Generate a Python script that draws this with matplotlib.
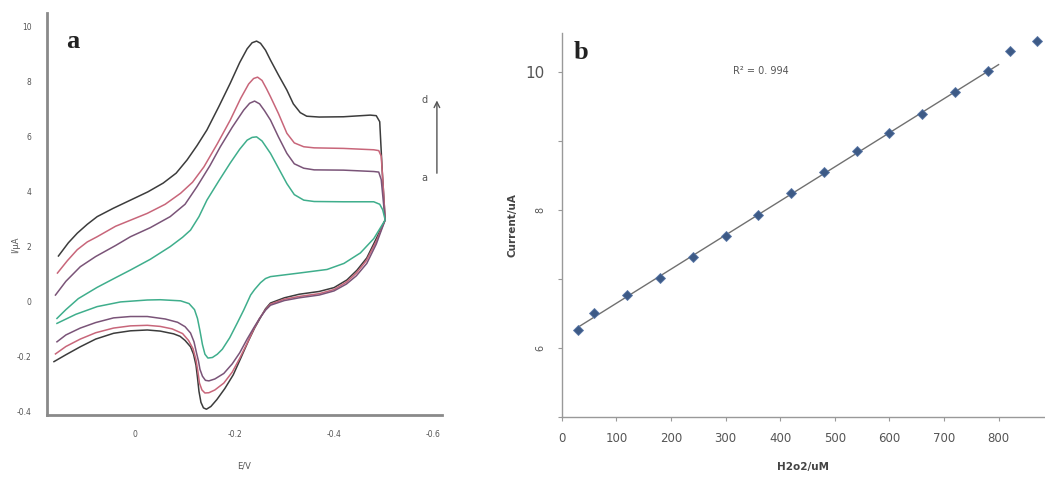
import matplotlib.pyplot as plt
import numpy as np

# ---- panel a: cyclic voltammograms (E / V, I / uA) ----
# curve d (black)
e_d = [0.155, 0.135, 0.117, 0.097, 0.077, 0.045, 0.010, -0.025, -0.056, -0.082,
       -0.104, -0.124, -0.144, -0.168, -0.191, -0.210, -0.225, -0.235, -0.244, -0.252,
       -0.262, -0.272, -0.288, -0.305, -0.318, -0.332, -0.345, -0.370, -0.419, -0.473,
       -0.485, -0.492, -0.497, -0.503,
       -0.485, -0.466, -0.446, -0.426, -0.400, -0.370, -0.330, -0.300, -0.272, -0.262,
       -0.254, -0.240, -0.228, -0.212, -0.197, -0.180, -0.164, -0.152, -0.143, -0.137,
       -0.132, -0.128, -0.125, -0.122, -0.117, -0.111, -0.100, -0.090, -0.077, -0.050,
       -0.024, 0.010, 0.044, 0.080, 0.111, 0.140, 0.164]
i_d = [1.67, 2.15, 2.50, 2.82, 3.10, 3.40, 3.70, 4.00, 4.32, 4.68,
       5.16, 5.68, 6.25, 7.10, 7.95, 8.70, 9.20, 9.42, 9.48, 9.40,
       9.15, 8.79, 8.25, 7.70, 7.20, 6.88, 6.75, 6.72, 6.73, 6.79,
       6.77, 6.55, 4.79, 2.98,
       2.30, 1.60, 1.15, 0.80, 0.52, 0.38, 0.28, 0.15, -0.04, -0.25,
       -0.50, -0.95, -1.40, -2.05, -2.65, -3.15, -3.55, -3.80, -3.90, -3.85,
       -3.65, -3.25, -2.75, -2.30, -1.90, -1.63, -1.40, -1.25, -1.16, -1.06,
       -1.02, -1.05, -1.14, -1.35, -1.63, -1.92, -2.17]

# curve c (red)
e_c = [0.157, 0.137, 0.117, 0.097, 0.077, 0.040, -0.024, -0.060, -0.091, -0.115,
       -0.138, -0.165, -0.191, -0.212, -0.228, -0.238, -0.246, -0.255, -0.264, -0.272,
       -0.288, -0.305, -0.320, -0.339, -0.360, -0.419, -0.480, -0.490, -0.495, -0.499,
       -0.503,
       -0.485, -0.465, -0.445, -0.425, -0.400, -0.370, -0.330, -0.300, -0.272, -0.262,
       -0.250, -0.238, -0.225, -0.210, -0.195, -0.178, -0.160, -0.148, -0.140, -0.134,
       -0.129, -0.126, -0.122, -0.116, -0.107, -0.095, -0.074, -0.050, -0.024, 0.010,
       0.044, 0.080, 0.111, 0.140, 0.161]
i_c = [1.05, 1.50, 1.90, 2.18, 2.37, 2.75, 3.22, 3.55, 3.95, 4.35,
       4.91, 5.75, 6.61, 7.40, 7.92, 8.12, 8.17, 8.05, 7.75, 7.46,
       6.85, 6.13, 5.78, 5.64, 5.60, 5.58, 5.53, 5.50, 5.30, 4.20,
       2.98,
       2.20, 1.50, 1.05, 0.72, 0.45, 0.30, 0.20, 0.10, -0.08, -0.28,
       -0.60, -1.00, -1.50, -2.05, -2.55, -2.95, -3.20, -3.30, -3.31, -3.20,
       -2.95, -2.55, -2.10, -1.70, -1.40, -1.15, -0.98, -0.89, -0.85, -0.87,
       -0.95, -1.12, -1.35, -1.62, -1.89]

# curve b (purple)
e_b = [0.161, 0.140, 0.111, 0.080, 0.040, 0.010, -0.030, -0.070, -0.100, -0.124,
       -0.150, -0.171, -0.195, -0.218, -0.230, -0.240, -0.250, -0.260, -0.272, -0.288,
       -0.305, -0.320, -0.339, -0.360, -0.419, -0.480, -0.490, -0.495, -0.499, -0.503,
       -0.485, -0.466, -0.445, -0.425, -0.400, -0.370, -0.330, -0.300, -0.272, -0.262,
       -0.250, -0.238, -0.225, -0.210, -0.195, -0.178, -0.160, -0.148, -0.141, -0.135,
       -0.130, -0.127, -0.123, -0.118, -0.111, -0.100, -0.085, -0.060, -0.024, 0.010,
       0.044, 0.080, 0.111, 0.140, 0.158]
i_b = [0.25, 0.75, 1.28, 1.65, 2.05, 2.37, 2.70, 3.10, 3.55, 4.19,
       4.95, 5.64, 6.35, 6.97, 7.22, 7.30, 7.20, 6.95, 6.61, 6.00,
       5.40, 5.02, 4.86, 4.80, 4.79, 4.74, 4.72, 4.45, 3.70, 2.98,
       2.10, 1.40, 0.95, 0.65, 0.40, 0.25, 0.15, 0.05, -0.12, -0.30,
       -0.60, -0.95, -1.35, -1.85, -2.25, -2.60, -2.80, -2.87, -2.85, -2.70,
       -2.45, -2.15, -1.85, -1.45, -1.13, -0.90, -0.74, -0.62, -0.53, -0.53,
       -0.58, -0.75, -0.95, -1.20, -1.45]

# curve a (green)
e_a = [0.158, 0.140, 0.115, 0.077, 0.040, 0.010, -0.030, -0.070, -0.095, -0.111,
       -0.128, -0.144, -0.168, -0.191, -0.210, -0.225, -0.235, -0.244, -0.255, -0.272,
       -0.290, -0.305, -0.320, -0.339, -0.360, -0.419, -0.480, -0.492, -0.498, -0.503,
       -0.480, -0.453, -0.420, -0.386, -0.330, -0.272, -0.262, -0.252, -0.240, -0.232,
       -0.218, -0.205, -0.190, -0.175, -0.165, -0.155, -0.146, -0.140, -0.135, -0.130,
       -0.125, -0.119, -0.108, -0.091, -0.050, -0.024, 0.030, 0.077, 0.120, 0.158]
i_a = [-0.60, -0.28, 0.12, 0.53, 0.88, 1.16, 1.55, 2.01, 2.35, 2.61,
       3.10, 3.70, 4.40, 5.05, 5.55, 5.88, 5.98, 6.00, 5.85, 5.40,
       4.80, 4.30, 3.90, 3.70, 3.65, 3.64, 3.64, 3.55, 3.35, 2.98,
       2.30, 1.78, 1.40, 1.18, 1.05, 0.92, 0.85, 0.70, 0.45, 0.25,
       -0.30, -0.77, -1.30, -1.72, -1.90, -2.02, -2.04, -1.90, -1.55, -1.05,
       -0.60, -0.28, -0.06, 0.04, 0.08, 0.07, 0.00, -0.17, -0.45, -0.78]

x_ticks_a = [0.0, -0.2, -0.4, -0.6]
x_labels_a = ['0', '-0.2', '-0.4', '-0.6']
y_ticks_a = [-4, -2, 0, 2, 4, 6, 8, 10]
y_labels_a = ['-0.4', '-0.2', '0', '2', '4', '6', '8', '10']

# ---- panel b: calibration ----
conc = [30, 60, 120, 180, 240, 300, 360, 420, 480, 540, 600, 660, 720, 780, 820, 870]
current = [6.26, 6.50, 6.76, 7.01, 7.31, 7.62, 7.93, 8.24, 8.54, 8.85, 9.11, 9.38,
           9.70, 10.01, 10.30, 10.45]
n_fit = 14   # points used for the trend line

fig = plt.figure(figsize=(10.45, 4.79), dpi=100)
ax1 = fig.add_axes([0.045, 0.1336, 0.378, 0.8386])
ax2 = fig.add_axes([0.5375, 0.130, 0.4625, 0.801])

curves = [(e_d, i_d, '#3c3c3c'), (e_c, i_c, '#c8667a'),
          (e_b, i_b, '#7a5478'), (e_a, i_a, '#3fae8c')]
for e, i, col in curves:
    ax1.plot(e, i, color=col, lw=1.1, solid_joinstyle='round')

ax1.set_xlim(0.178, -0.6175)
ax1.set_ylim(-4.11, 10.49)
ax1.set_xticks(x_ticks_a)
ax1.set_xticklabels(x_labels_a)
ax1.set_yticks(y_ticks_a)
ax1.set_yticklabels(y_labels_a)
ax1.tick_params(length=0, labelsize=5.5, labelcolor='#555555')
ax1.tick_params(axis='x', pad=11)
ax1.tick_params(axis='y', pad=11)
for s in ['top', 'right']:
    ax1.spines[s].set_visible(False)
for s in ['left', 'bottom']:
    ax1.spines[s].set_color('#8a8a8a')
    ax1.spines[s].set_linewidth(2)
ax1.set_xlabel('E/V', fontsize=6, color='#555555', labelpad=16)
ax1.set_ylabel('I/μA', fontsize=6, color='#555555')
ax1.yaxis.set_label_coords(-0.068, 0.423)
ax1.text(0.065, 0.93, 'a', transform=ax1.transAxes, fontsize=19, fontweight='bold',
         family='Liberation Serif', ha='center', va='center', color='#222222')
ax1.annotate('', xy=(0.987, 0.79), xytext=(0.987, 0.595), xycoords='axes fraction',
             arrowprops=dict(arrowstyle='->', color='#555555', lw=1.0),
             annotation_clip=False)
ax1.text(0.955, 0.785, 'd', transform=ax1.transAxes, fontsize=7, color='#555555',
         ha='center', va='center')
ax1.text(0.955, 0.59, 'a', transform=ax1.transAxes, fontsize=7, color='#555555',
         ha='center', va='center')

# trend line over the linear range
k, b0 = np.polyfit(conc[:n_fit], current[:n_fit], 1)
xf = np.array([conc[0], 800])
ax2.plot(xf, k * xf + b0, color='#707070', lw=1.0, zorder=2)
ax2.plot(conc, current, 'D', color='#3d5a86', markersize=5.5,
         markeredgecolor='#5a78a8', markeredgewidth=0.6, zorder=3)

ax2.set_xlim(0, 885)
ax2.set_ylim(5, 10.56)
ax2.set_xticks(np.arange(0, 801, 100))
ax2.set_yticks([5, 6, 7, 8, 9, 10])
ax2.set_yticklabels(['', '6', '', '8', '', '10'])
ax2.tick_params(direction='out', length=3, width=0.8, color='#999999',
                labelsize=8.5, labelcolor='#555555')
ax2.tick_params(axis='x', pad=8)
ax2.tick_params(axis='y', pad=9)
for lab in ax2.get_yticklabels():
    if lab.get_text() == '10':
        lab.set_fontsize(11)
    else:
        lab.set_rotation(90)
        lab.set_fontsize(7)
        lab.set_va('center')
for s in ['top', 'right']:
    ax2.spines[s].set_visible(False)
for s in ['left', 'bottom']:
    ax2.spines[s].set_color('#999999')
    ax2.spines[s].set_linewidth(1.0)
ax2.set_xlabel('H2o2/uM', fontsize=7.5, fontweight='bold', color='#444444', labelpad=12)
ax2.set_ylabel('Current/uA', fontsize=7.5, fontweight='bold', color='#444444', labelpad=6)
ax2.text(0.04, 0.95, 'b', transform=ax2.transAxes, fontsize=19, fontweight='bold',
         family='Liberation Serif', ha='center', va='center', color='#222222')
ax2.text(0.355, 0.9, 'R² = 0. 994', transform=ax2.transAxes, fontsize=7,
         color='#555555', ha='left', va='center')

fig.savefig('out.png', dpi=100)
